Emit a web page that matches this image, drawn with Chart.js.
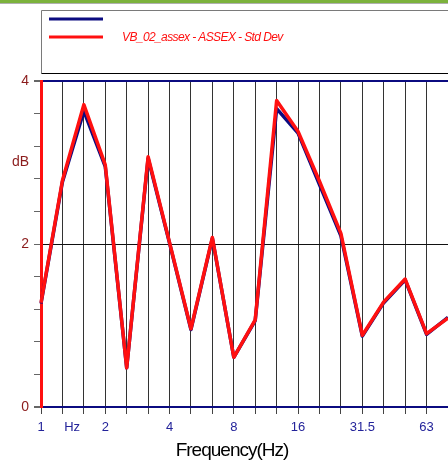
<!DOCTYPE html>
<html>
<head>
<meta charset="utf-8">
<script src="https://cdn.jsdelivr.net/npm/chart.js@4/dist/chart.umd.min.js"></script>
<style>
  html, body { margin: 0; padding: 0; background: #fff; }
  #wrap { width: 448px; height: 463px; position: relative; }
</style>
</head>
<body>
<div id="wrap"><canvas id="c" width="448" height="463"></canvas></div>
<script>
// Third-octave band centre frequencies (Hz)
const bands = ['1','1.25','1.6','2','2.5','3.15','4','5','6.3','8','10','12.5','16','20','25','31.5','40','50','63','80'];
// Displayed x tick labels
const xTickLabels = ['1','\u2003\u2002Hz','','2','','','4','','','8','','','16','','','31.5','','','63',''];
// Series values (dB)
const navyValues = [1.27, 2.76, 3.63, 2.95, 0.48, 3.05, 2.01, 0.95, 2.07, 0.61, 1.06, 3.66, 3.36, 2.73, 2.10, 0.87, 1.28, 1.56, 0.89, 1.10];
const redValues  = [1.28, 2.78, 3.71, 2.97, 0.48, 3.07, 2.02, 0.96, 2.08, 0.61, 1.07, 3.76, 3.38, 2.77, 2.13, 0.88, 1.29, 1.57, 0.90, 1.09];
const seriesLabels = ['', 'VB_02_assex - ASSEX - Std Dev'];
// Y ticks
const yTickValues = [0, 0.4, 0.8, 1.2, 1.6, 2, 2.4, 2.8, 3, 3.2, 3.6, 4];
const yTickLabels = {0: '0', 2: '2', 3: 'dB', 4: '4'};
const xTitle = 'Frequency(Hz)';

const NAVY = '#0b0b80';
const RED = '#ff1010';
const FONT = "'Liberation Sans', Arial, sans-serif";

const decorPlugin = {
  id: 'decor',
  beforeDraw(chart) {
    const ctx = chart.ctx;
    ctx.save();
    ctx.fillStyle = '#7cb23c';
    ctx.fillRect(0, 0, chart.width, 3);
    ctx.fillStyle = '#b0b0b0';
    ctx.fillRect(0, 3, chart.width, 1);
    // legend box
    const L = chart.chartArea.left + 0.5, T = 10.5, B = 73.5, R = chart.width + 2;
    ctx.lineWidth = 1;
    ctx.strokeStyle = '#7a7a7a';
    ctx.beginPath(); ctx.moveTo(L, B); ctx.lineTo(L, T); ctx.lineTo(R, T); ctx.stroke();
    ctx.strokeStyle = '#000';
    ctx.beginPath(); ctx.moveTo(L, B); ctx.lineTo(R, B); ctx.stroke();
    const ds = chart.data.datasets;
    const rows = [19, 37];
    ds.forEach((d, i) => {
      const y = rows[i];
      ctx.strokeStyle = d.borderColor;
      ctx.lineWidth = 3;
      ctx.beginPath(); ctx.moveTo(49, y); ctx.lineTo(103, y); ctx.stroke();
      if (d.label) {
        ctx.fillStyle = d.borderColor;
        ctx.font = "italic 12px " + FONT;
        try { ctx.letterSpacing = '-0.6px'; } catch (e) {}
        ctx.textBaseline = 'middle';
        ctx.textAlign = 'left';
        ctx.fillText(d.label, 122, y + 1);
        try { ctx.letterSpacing = '0px'; } catch (e) {}
      }
    });
    ctx.restore();
  },
  afterDraw(chart) {
    const ctx = chart.ctx;
    ctx.save();
    ctx.fillStyle = '#000';
    ctx.font = "19px " + FONT;
    try { ctx.letterSpacing = '-1px'; } catch (e) {}
    ctx.textAlign = 'center';
    ctx.textBaseline = 'middle';
    ctx.fillText(xTitle, 232, 451);
    ctx.restore();
  }
};

new Chart(document.getElementById('c'), {
  type: 'line',
  data: {
    labels: bands,
    datasets: [
      { label: seriesLabels[0], data: navyValues, borderColor: NAVY, borderWidth: 3.5, borderJoinStyle: 'round', pointRadius: 0, tension: 0, order: 1 },
      { label: seriesLabels[1], data: redValues, borderColor: RED, borderWidth: 3.5, borderJoinStyle: 'round', pointRadius: 0, tension: 0, order: 0 }
    ]
  },
  options: {
    responsive: false,
    animation: false,
    events: [],
    layout: { padding: { top: 81, left: 0, right: 0, bottom: 0 } },
    plugins: { legend: { display: false }, tooltip: { enabled: false }, title: { display: false } },
    scales: {
      x: {
        type: 'category',
        offset: false,
        afterFit(s) { s.height = 56; s.paddingLeft = 0; s.paddingRight = 0; },
        border: { color: NAVY, width: 2 },
        grid: {
          offset: false,
          color: (c) => c.index === 19 ? '#3d3db0' : '#333',
          tickColor: '#444',
          lineWidth: 1,
          tickLength: 7,
          drawTicks: true
        },
        ticks: {
          autoSkip: false,
          maxRotation: 0,
          minRotation: 0,
          padding: 6,
          color: '#23239a',
          font: { family: FONT, size: 13 },
          callback: (v, i) => xTickLabels[i]
        }
      },
      y: {
        min: 0,
        max: 4,
        afterFit(s) { s.width = 41; s.paddingTop = 0; s.paddingBottom = 0; },
        afterBuildTicks(s) { s.ticks = yTickValues.map(v => ({ value: v })); },
        border: { color: RED, width: 3 },
        grid: {
          color: (c) => {
            const v = c.tick ? c.tick.value : null;
            if (v === 2) return '#111';
            if (v === 0 || v === 4) return NAVY;
            return 'rgba(0,0,0,0)';
          },
          lineWidth: (c) => {
            const v = c.tick ? c.tick.value : null;
            return (v === 0 || v === 4) ? 2 : 1;
          },
          tickColor: (c) => (c.tick && c.tick.value === 3) ? 'rgba(0,0,0,0)' : '#666',
          tickLength: 7,
          drawTicks: true
        },
        ticks: {
          padding: 5,
          color: '#8b1c1c',
          font: { family: FONT, size: 14 },
          callback: (v) => (yTickLabels[v] !== undefined ? yTickLabels[v] : '')
        }
      }
    }
  },
  plugins: [decorPlugin]
});
</script>
</body>
</html>
